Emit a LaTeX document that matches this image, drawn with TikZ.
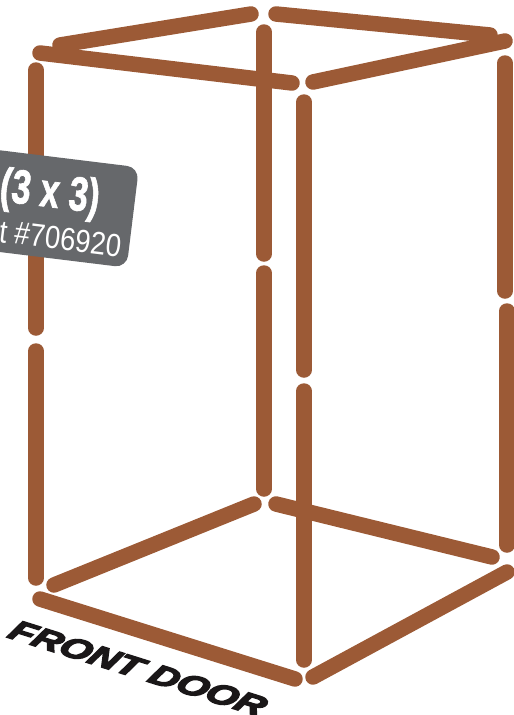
\documentclass[tikz,border=0pt]{standalone}
\usepackage{fontspec}
\usepackage{graphicx}
\setmainfont{Liberation Sans}
\newfontfamily\doorfont[FakeBold=4.5,FakeSlant=0.2]{Liberation Sans Bold Italic}
\newfontfamily\sizefont[FakeBold=1.5]{Liberation Sans Bold}
\definecolor{bar}{HTML}{9C5A36}
\definecolor{tag}{HTML}{66686B}
\definecolor{doorink}{HTML}{1A1718}
\tikzset{barline/.style={line width=15.5pt,color=bar,line cap=round}}
\begin{document}
\begin{tikzpicture}[x=1pt,y=-1pt]
\useasboundingbox (0,0) rectangle (514,715);
\clip (0,0) rectangle (514,715);
\coordinate (a1) at (60,45); \coordinate (a2) at (251,14);
\coordinate (b1) at (276,14); \coordinate (b2) at (490,35);
\coordinate (c1) at (40,53); \coordinate (c2) at (292,83);
\coordinate (d1) at (313,82); \coordinate (d2) at (505,41);
\draw[barline] (a1)--(a2);
\draw[barline] (b1)--(b2);
\draw[barline] (c1)--(c2);
\draw[barline] (d1)--(d2);
\coordinate (e1) at (36,70); \coordinate (e2) at (36,328);
\coordinate (f1) at (36,351); \coordinate (f2) at (36,578);
\coordinate (g1) at (264,32); \coordinate (g2) at (264,254);
\coordinate (h1) at (264,273); \coordinate (h2) at (264,489);
\coordinate (i1) at (304,102); \coordinate (i2) at (304,370);
\coordinate (j1) at (304,391); \coordinate (j2) at (304,660);
\coordinate (k1) at (505,63); \coordinate (k2) at (505,291);
\coordinate (l1) at (507,311); \coordinate (l2) at (507,545);
\draw[barline] (e1)--(e2);
\draw[barline] (f1)--(f2);
\draw[barline] (g1)--(g2);
\draw[barline] (h1)--(h2);
\draw[barline] (i1)--(i2);
\draw[barline] (j1)--(j2);
\draw[barline] (k1)--(k2);
\draw[barline] (l1)--(l2);
\coordinate (m1) at (54,585); \coordinate (m2) at (254,504);
\coordinate (n1) at (276,504); \coordinate (n2) at (492,557);
\coordinate (o1) at (40,599); \coordinate (o2) at (295,679);
\coordinate (p1) at (313,677); \coordinate (p2) at (507,572);
\draw[barline] (m1)--(m2);
\draw[barline] (n1)--(n2);
\draw[barline] (o1)--(o2);
\draw[barline] (p1)--(p2);
\node[fill=tag,rounded corners=12pt,rotate=-7,minimum width=240pt,minimum height=101pt,inner sep=0pt,anchor=east] (tagbox) at (133,217.5) {};
\node[rotate=-7,text=white,anchor=base east,inner sep=0pt] (size) at (98,213) {\scalebox{.72}[1]{\sizefont\fontsize{48}{48}\selectfont (3 x 3)}};
\node[rotate=-7,text=white,anchor=base east,inner sep=0pt] (part) at (120,257) {\scalebox{.86}[1]{\fontsize{32}{32}\selectfont t \#706920}};
\node[rotate=-17.5,text=doorink,anchor=base west,inner sep=0pt] (door) at (6,637) {\scalebox{1.36}[1]{\doorfont\fontsize{29}{29}\selectfont FRONT DOOR}};
\end{tikzpicture}
\end{document}
